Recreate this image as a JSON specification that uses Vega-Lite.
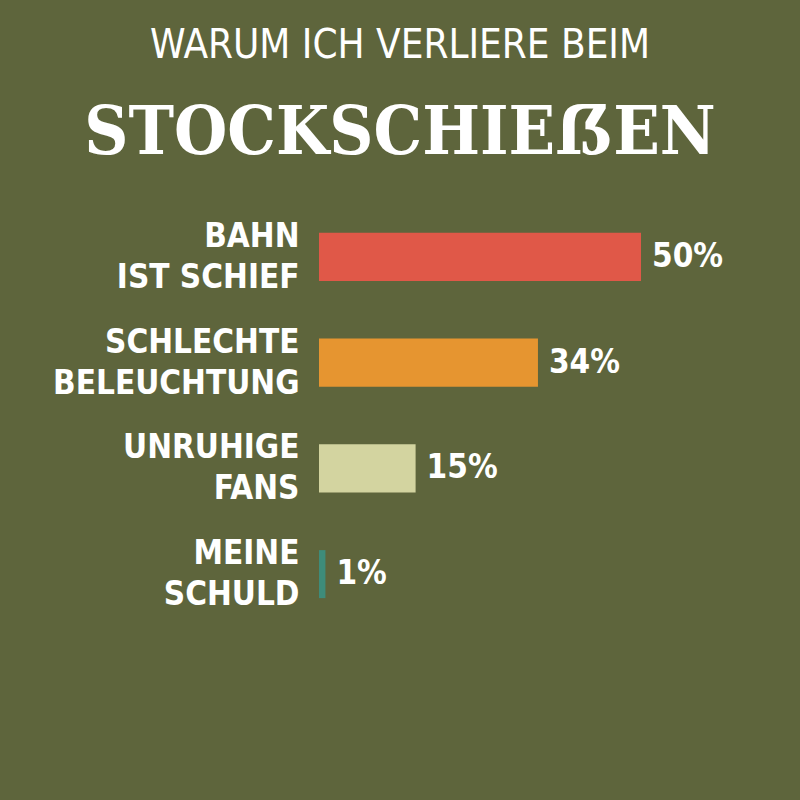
{
  "$schema": "https://vega.github.io/schema/vega-lite/v6.json",
  "autosize": "none",
  "width": 322,
  "height": 423,
  "padding": {"left": 319, "top": 204, "right": 159, "bottom": 173},
  "background": "#5E653C",
  "title": {
    "text": "WARUM ICH VERLIERE BEIM",
    "subtitle": "STOCKSCHIEẞEN",
    "anchor": "middle",
    "frame": "group",
    "dx": -80,
    "offset": 36,
    "color": "#FFFFFF",
    "subtitleColor": "#FFFFFF",
    "font": "DejaVu Sans Condensed, DejaVu Sans, sans-serif",
    "fontSize": 40,
    "fontWeight": "normal",
    "subtitleFont": "DejaVu Serif Condensed, DejaVu Serif, serif",
    "subtitleFontSize": 68,
    "subtitleFontWeight": "bold",
    "subtitlePadding": 34
  },
  "data": {
    "values": [
      {"reason": "BAHN|IST SCHIEF", "value": 0.50, "color": "#E05848"},
      {"reason": "SCHLECHTE|BELEUCHTUNG", "value": 0.34, "color": "#E69530"},
      {"reason": "UNRUHIGE|FANS", "value": 0.15, "color": "#D3D4A0"},
      {"reason": "MEINE|SCHULD", "value": 0.01, "color": "#3E8C7A"}
    ]
  },
  "encoding": {
    "y": {
      "field": "reason",
      "type": "nominal",
      "sort": null,
      "scale": {"paddingInner": 0.546, "paddingOuter": 0.273},
      "axis": {
        "title": null,
        "domain": false,
        "ticks": false,
        "grid": false,
        "labelPadding": 20,
        "labelOffset": -20,
        "labelExpr": "split(datum.value, '|')",
        "labelFont": "DejaVu Sans Condensed, DejaVu Sans, sans-serif",
        "labelFontSize": 33,
        "labelFontWeight": "bold",
        "labelColor": "#FFFFFF",
        "labelLineHeight": 41,
        "labelBaseline": "middle",
        "labelAlign": "right",
        "labelLimit": 400
      }
    },
    "x": {
      "field": "value",
      "type": "quantitative",
      "scale": {"domain": [0, 0.5]},
      "axis": null
    }
  },
  "layer": [
    {
      "mark": {"type": "bar", "clip": false},
      "encoding": {
        "color": {"field": "color", "type": "nominal", "scale": null, "legend": null}
      }
    },
    {
      "mark": {
        "type": "text",
        "align": "left",
        "baseline": "middle",
        "dx": 11,
        "color": "#FFFFFF",
        "font": "DejaVu Sans Condensed, DejaVu Sans, sans-serif",
        "fontSize": 33,
        "fontWeight": "bold"
      },
      "encoding": {
        "text": {"field": "value", "type": "quantitative", "format": ".0%"}
      }
    }
  ],
  "config": {"view": {"stroke": null}}
}
